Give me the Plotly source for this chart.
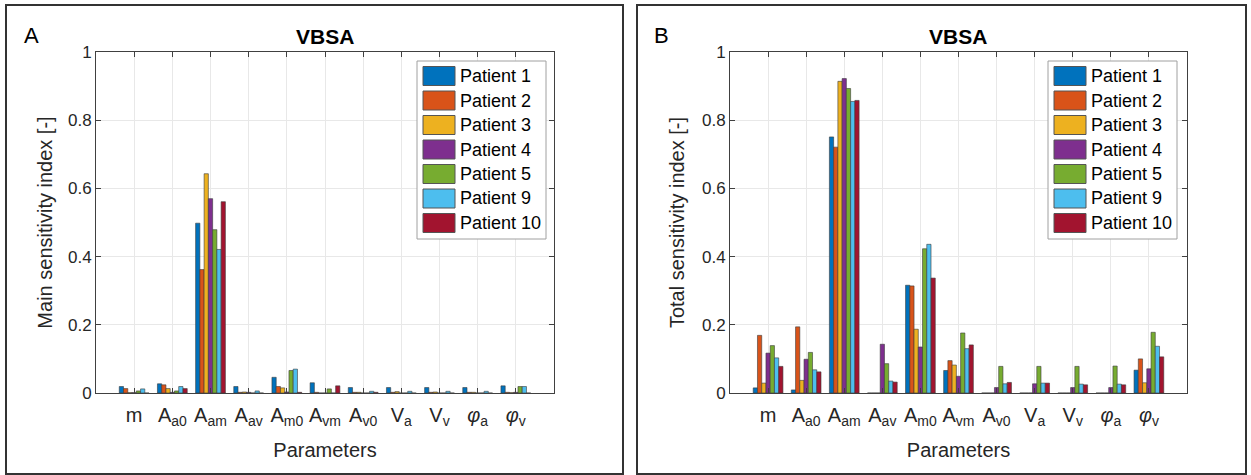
import plotly.graph_objects as go

params = ["m", "Aa0", "Aam", "Av", "Am0", "Avm", "Av0", "Va", "Vv", "phia", "phiv"]
tick_text = ["m", "A<sub>a0</sub>", "A<sub>am</sub>", "A<sub>av</sub>", "A<sub>m0</sub>",
             "A<sub>vm</sub>", "A<sub>v0</sub>", "V<sub>a</sub>", "V<sub>v</sub>",
             "<i>φ</i><sub>a</sub>", "<i>φ</i><sub>v</sub>"]
patients = ["Patient 1", "Patient 2", "Patient 3", "Patient 4", "Patient 5", "Patient 9", "Patient 10"]
colors = ["#0072BD", "#D95319", "#EDB120", "#7E2F8E", "#77AC30", "#4DBEEE", "#A2142F"]

# Main sensitivity index (panel A), one list per patient across params
main_p1 = [0.019, 0.027, 0.498, 0.019, 0.046, 0.030, 0.016, 0.016, 0.016, 0.016, 0.021]
main_p2 = [0.013, 0.024, 0.362, 0.002, 0.019, 0.002, 0.002, 0.002, 0.002, 0.002, 0.002]
main_p3 = [0.001, 0.013, 0.643, 0.003, 0.015, 0.000, 0.002, 0.004, 0.003, 0.002, 0.001]
main_p4 = [0.001, 0.002, 0.570, 0.002, 0.003, 0.000, 0.000, 0.000, 0.000, 0.000, 0.002]
main_p5 = [0.006, 0.006, 0.479, 0.000, 0.066, 0.012, 0.000, 0.000, 0.000, 0.000, 0.019]
main_p9 = [0.012, 0.019, 0.421, 0.006, 0.070, 0.000, 0.005, 0.005, 0.005, 0.005, 0.019]
main_p10 = [0.000, 0.013, 0.561, 0.000, 0.002, 0.021, 0.002, 0.000, 0.000, 0.000, 0.000]

# Total sensitivity index (panel B)
tot_p1 = [0.015, 0.009, 0.751, 0.000, 0.316, 0.066, 0.000, 0.000, 0.000, 0.000, 0.067]
tot_p2 = [0.169, 0.194, 0.721, 0.000, 0.314, 0.095, 0.000, 0.000, 0.000, 0.000, 0.100]
tot_p3 = [0.029, 0.037, 0.914, 0.000, 0.187, 0.082, 0.000, 0.000, 0.000, 0.000, 0.030]
tot_p4 = [0.117, 0.099, 0.922, 0.143, 0.135, 0.049, 0.016, 0.027, 0.016, 0.016, 0.071]
tot_p5 = [0.139, 0.119, 0.893, 0.086, 0.423, 0.176, 0.078, 0.078, 0.078, 0.079, 0.178]
tot_p9 = [0.103, 0.068, 0.855, 0.035, 0.436, 0.130, 0.027, 0.029, 0.026, 0.026, 0.137]
tot_p10 = [0.078, 0.062, 0.858, 0.032, 0.337, 0.141, 0.031, 0.029, 0.024, 0.024, 0.106]

main_vals = [main_p1, main_p2, main_p3, main_p4, main_p5, main_p9, main_p10]
tot_vals = [tot_p1, tot_p2, tot_p3, tot_p4, tot_p5, tot_p9, tot_p10]

W, H = 1251, 475
FONT = "Liberation Sans, Arial, sans-serif"
TXT = "#262626"
AX = "#404040"
GRID = "#e8e8e8"

fig = go.Figure()
for i, name in enumerate(patients):
    fig.add_trace(go.Bar(x=params, y=main_vals[i], name=name, marker_color=colors[i],
                         marker_line=dict(color="#3a3a3a", width=0.6),
                         xaxis="x", yaxis="y", showlegend=False))
for i, name in enumerate(patients):
    fig.add_trace(go.Bar(x=params, y=tot_vals[i], name=name, marker_color=colors[i],
                         marker_line=dict(color="#3a3a3a", width=0.6),
                         xaxis="x2", yaxis="y2", showlegend=False))


def px(x):
    return x / W


def py(y):
    return (H - y) / H


xax = dict(type="category", categoryorder="array", categoryarray=params,
           tickvals=params, ticktext=tick_text, range=[-1, 11],
           showgrid=True, gridcolor=GRID, gridwidth=1,
           showline=True, linecolor=AX, linewidth=1, mirror="ticks",
           ticks="inside", ticklen=5, tickcolor=AX, automargin=False,
           ticklabelstandoff=4,
           tickfont=dict(family=FONT, size=20, color=TXT),
           title=dict(text="Parameters", font=dict(family=FONT, size=20, color=TXT), standoff=14),
           fixedrange=True)
yax = dict(range=[0, 1], tickvals=[0, 0.2, 0.4, 0.6, 0.8, 1],
           ticktext=["0", "0.2", "0.4", "0.6", "0.8", "1"],
           showgrid=True, gridcolor=GRID, gridwidth=1, zeroline=False,
           showline=True, linecolor=AX, linewidth=1, mirror="ticks",
           ticks="inside", ticklen=5, tickcolor=AX, automargin=False,
           tickfont=dict(family=FONT, size=17, color=TXT), fixedrange=True)

# manual legends (large swatches as in the original)
shapes = [
    dict(type="rect", xref="paper", yref="paper", x0=px(6), x1=px(623), y0=py(474), y1=py(5),
         line=dict(color="#333333", width=2)),
    dict(type="rect", xref="paper", yref="paper", x0=px(637), x1=px(1246), y0=py(474), y1=py(5),
         line=dict(color="#333333", width=2)),
]
annotations = [
    dict(text="<b>VBSA</b>", x=px(325), y=py(37), xref="paper", yref="paper",
         xanchor="center", yanchor="middle",
         showarrow=False, font=dict(family=FONT, size=21, color="black")),
    dict(text="<b>VBSA</b>", x=px(958), y=py(37), xref="paper", yref="paper",
         xanchor="center", yanchor="middle",
         showarrow=False, font=dict(family=FONT, size=21, color="black")),
    dict(text="A", x=px(22), y=py(35), xref="paper", yref="paper", xanchor="left",
         yanchor="middle", showarrow=False, font=dict(family=FONT, size=22, color="black")),
    dict(text="B", x=px(652), y=py(35), xref="paper", yref="paper", xanchor="left",
         yanchor="middle", showarrow=False, font=dict(family=FONT, size=22, color="black")),
]
for lx in (417, 1048):
    shapes.append(dict(type="rect", xref="paper", yref="paper",
                       x0=px(lx), x1=px(lx + 129), y0=py(239), y1=py(61),
                       fillcolor="white", line=dict(color="#a0a0a0", width=1), layer="above"))
    for i, name in enumerate(patients):
        top = 66.5 + i * 24.5
        shapes.append(dict(type="rect", xref="paper", yref="paper",
                           x0=px(lx + 6), x1=px(lx + 38), y0=py(top + 19), y1=py(top),
                           fillcolor=colors[i], line=dict(color="#555555", width=1),
                           layer="above"))
        annotations.append(dict(text=name, x=px(lx + 41), y=py(top + 9.5),
                                xref="paper", yref="paper", xanchor="left", yanchor="middle",
                                showarrow=False,
                                font=dict(family=FONT, size=18, color="black")))

y_dom = [py(393), py(52)]
fig.update_layout(
    width=W, height=H, margin=dict(l=0, r=0, t=0, b=0, autoexpand=False),
    paper_bgcolor="white", plot_bgcolor="white",
    barmode="group", bargap=0.22, bargroupgap=0.0,
    font=dict(family=FONT, color=TXT),
    showlegend=False,
    xaxis=dict(xax, domain=[px(96), px(554)], anchor="y"),
    xaxis2=dict(xax, domain=[px(730), px(1187)], anchor="y2"),
    yaxis=dict(yax, domain=y_dom, anchor="x",
               title=dict(text="Main sensitivity index [-]",
                          font=dict(family=FONT, size=20, color=TXT), standoff=9)),
    yaxis2=dict(yax, domain=y_dom, anchor="x2",
                title=dict(text="Total sensitivity index [-]",
                           font=dict(family=FONT, size=20, color=TXT), standoff=11)),
    shapes=shapes,
    annotations=annotations,
)

fig.write_html("out.html")
